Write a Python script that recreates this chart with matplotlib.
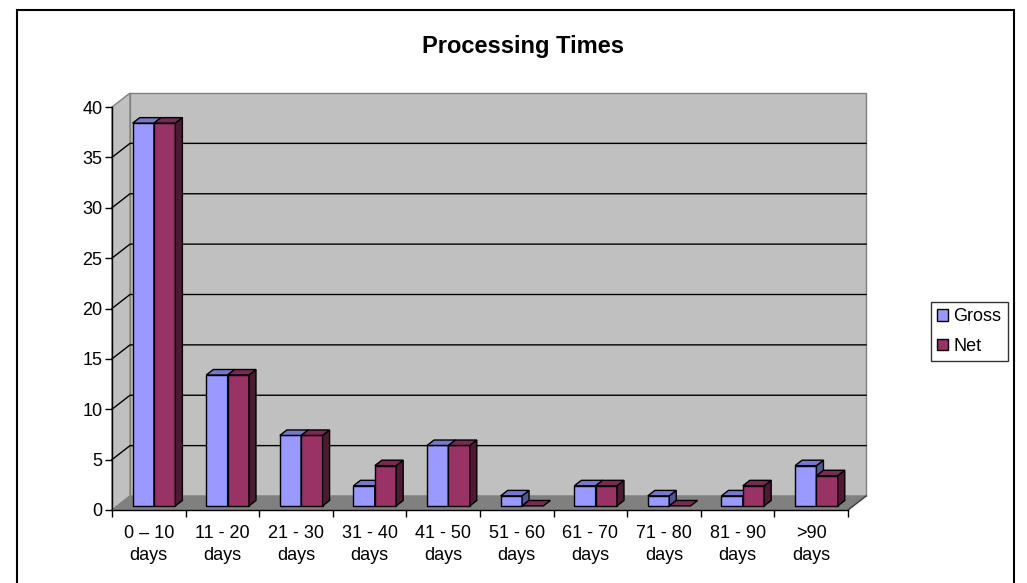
import matplotlib.pyplot as plt
from matplotlib.patches import Polygon, Rectangle, Patch
import numpy as np

plt.rcParams['font.family'] = ['Liberation Sans', 'DejaVu Sans']

categories = ['0 – 10\ndays', '11 - 20\ndays', '21 - 30\ndays', '31 - 40\ndays',
              '41 - 50\ndays', '51 - 60\ndays', '61 - 70\ndays', '71 - 80\ndays',
              '81 - 90\ndays', '>90\ndays']
gross = [38, 13, 7, 2, 6, 1, 2, 1, 1, 4]
net = [38, 13, 7, 4, 6, 0, 2, 0, 2, 3]

W, H = 1027, 583
fig = plt.figure(figsize=(W / 100, H / 100), dpi=100)

# front plane of the plot in pixels
x0, x1, y0, y1 = 112, 848, 510, 107
ax = fig.add_axes([x0 / W, 1 - y0 / H, (x1 - x0) / W, (y0 - y1) / H])
ax.set_xlim(0, 10)
ax.set_ylim(0, 40)
ax.patch.set_visible(False)

# depth of the box, in data units
sx = (x1 - x0) / 10
sy = (y0 - y1) / 40
ddx, ddy = 18 / sx, 14 / sy


def poly(pts, fc, ec, z, lw=1.0):
    ax.add_patch(Polygon(pts, closed=True, facecolor=fc, edgecolor=ec,
                         linewidth=lw, zorder=z, clip_on=False))


# walls and floor
wall = '#c0c0c0'
poly([(ddx, ddy), (10 + ddx, ddy), (10 + ddx, 40 + ddy), (ddx, 40 + ddy)], wall, '#808080', 0)
poly([(0, 0), (ddx, ddy), (ddx, 40 + ddy), (0, 40)], wall, '#808080', 0)
poly([(0, 0), (10, 0), (10 + ddx, ddy), (ddx, ddy)], '#808080', '#808080', 1)
ax.plot([10, 10 + ddx], [0, ddy], color='#404040', lw=1, zorder=1, clip_on=False)

for v in range(5, 40, 5):
    ax.plot([0, ddx, 10 + ddx], [v, v + ddy, v + ddy], color='black', lw=1,
            zorder=0.5, clip_on=False)

# bars
f0, f1 = 0.29, 0.68
bw = 0.29
colors = {
    'gross': ('#9999ff', '#7777cc', '#55558f'),
    'net': ('#993366', '#7a2952', '#4d1a33'),
}


def bar3d(xl, h, cols):
    front, top, side = cols
    ox, oy = f0 * ddx, f0 * ddy
    dx, dy = (f1 - f0) * ddx, (f1 - f0) * ddy
    xa, xb = xl + ox, xl + bw + ox
    ya, yb = oy, h + oy
    if h > 0:
        poly([(xa, ya), (xb, ya), (xb, yb), (xa, yb)], front, 'black', 3)
        poly([(xb, ya), (xb + dx, ya + dy), (xb + dx, yb + dy), (xb, yb)], side, 'black', 3)
    poly([(xa, yb), (xb, yb), (xb + dx, yb + dy), (xa + dx, yb + dy)], top, 'black', 3)


for i in range(len(categories)):
    bar3d(i + 0.5 - bw, gross[i], colors['gross'])
    bar3d(i + 0.5, net[i], colors['net'])

# axes lines and ticks
for s in ['top', 'right']:
    ax.spines[s].set_visible(False)
for s in ['left', 'bottom']:
    ax.spines[s].set_color('black')
    ax.spines[s].set_linewidth(1)
    ax.spines[s].set_zorder(4)

ax.set_yticks(np.arange(0, 41, 5))
ax.tick_params(axis='y', length=5, width=1, labelsize=13, pad=2)
ax.set_xticks(np.arange(0, 11, 1))
ax.set_xticklabels([])
ax.set_xticks(np.arange(0.5, 10, 1), minor=True)
ax.set_xticklabels(categories, minor=True, linespacing=1.4)
ax.tick_params(axis='x', which='major', length=5, width=1, direction='out')
ax.tick_params(axis='x', which='minor', length=0, labelsize=13, pad=11)

fig.text(523 / W, 1 - 53 / H, 'Processing Times', ha='center', va='baseline',
         fontsize=17, fontweight='bold')

# legend
handles = [Patch(facecolor=colors['gross'][0], edgecolor='black', label='Gross'),
           Patch(facecolor=colors['net'][0], edgecolor='black', label='Net')]
leg = fig.legend(handles=handles, loc='upper left', bbox_to_anchor=(931 / W, 1 - 302 / H),
                 fontsize=13, frameon=True, fancybox=False, borderaxespad=0,
                 handlelength=0.6, handleheight=0.6, handletextpad=0.3,
                 borderpad=0.35, labelspacing=0.7)
leg.get_frame().set_edgecolor('black')
leg.get_frame().set_linewidth(1)

# chart border
fig.patches.append(Rectangle((17 / W, -0.05), (1014 - 17) / W, 1.05 - 10 / H,
                             transform=fig.transFigure, fill=False,
                             edgecolor='black', linewidth=1.5))

fig.savefig('out.png', dpi=100)
